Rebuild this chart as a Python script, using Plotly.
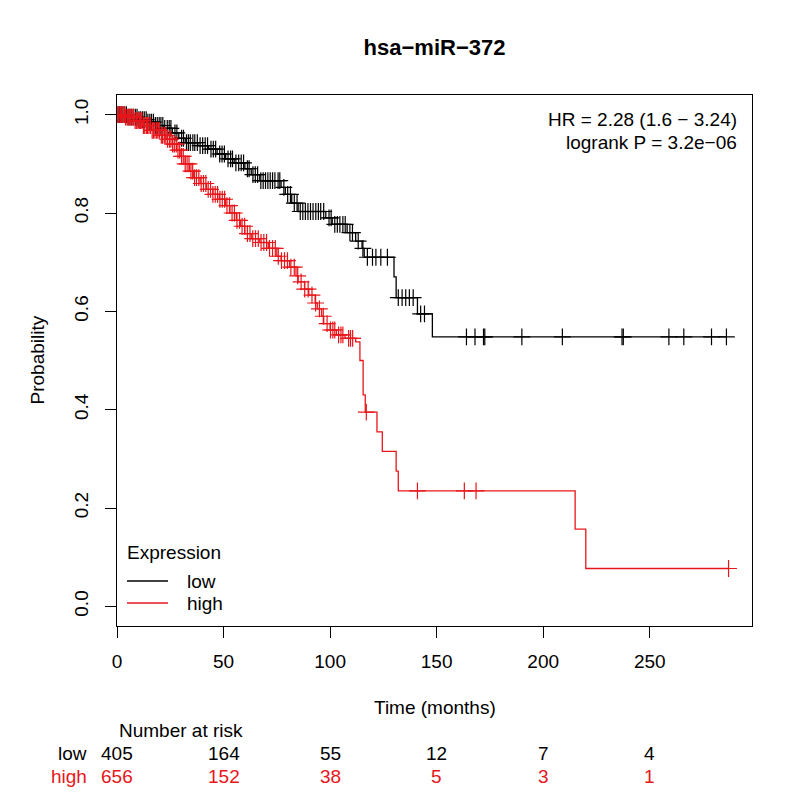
import numpy as np
import plotly.graph_objects as go

# Kaplan-Meier steps (time in months, survival)
low_time = [0, 5, 10, 14, 18, 22, 26, 29, 32, 38, 43, 47, 51, 55, 60, 63, 67, 77, 79,
            82, 85, 98, 101, 108, 112, 115, 116, 130, 131, 141, 148]
low_surv = [1.0, 0.995, 0.99, 0.985, 0.978, 0.972, 0.963, 0.952, 0.943, 0.937, 0.93,
            0.92, 0.91, 0.902, 0.89, 0.878, 0.866, 0.852, 0.838, 0.82, 0.803, 0.79,
            0.777, 0.76, 0.743, 0.728, 0.71, 0.67, 0.628, 0.595, 0.548]
low_censor = [0.5, 1.3, 2.1, 2.8, 3.6, 4.4, 5.2, 6.1, 6.9, 7.7, 8.6, 9.4, 10.3, 11.1,
              12.0, 12.8, 13.7, 14.5, 15.4, 16.2, 17.1, 18.0, 18.9, 19.8, 20.6, 21.5,
              22.4, 23.6, 24.5, 25.3, 27.2, 28.1, 30.3, 31.2, 32.6, 33.5, 34.4, 35.6,
              36.5, 37.7, 39.0, 40.2, 41.4, 42.5, 44.1, 45.2, 46.3, 48.2, 49.3, 50.4,
              52.1, 53.3, 54.2, 55.8, 57.1, 58.3, 59.4, 61.2, 62.0, 63.8, 64.9, 66.0,
              67.5, 68.6, 69.7, 70.8, 71.9, 73.0, 74.1, 75.6, 76.4, 78.3, 80.1, 81.4,
              83.2, 84.5, 86.0, 87.2, 88.4, 89.6, 90.8, 92.0, 93.3, 94.5, 95.6, 97.0,
              99.5, 100.5, 102.2, 103.4, 104.6, 106.0, 107.1, 109.3, 110.5, 113.2,
              115.4, 117.5, 119.9, 121.5, 123.8, 126.9, 132.0, 133.8, 135.5, 137.2,
              139.0, 142.5, 144.3, 164.0, 168.0, 172.0, 172.6, 190.0, 209.0, 237.0,
              237.6, 259.0, 266.0, 279.0, 286.0]

high_time = [0, 4, 8, 12, 16, 20, 23, 26, 28, 30, 32, 34, 36, 39, 42, 45, 48, 51, 53,
             56, 58, 60, 63, 67, 71, 75, 77, 81, 84, 85, 88, 90, 93, 94, 96, 97, 100,
             103, 107, 112, 114, 115.5, 116.5, 122, 124.5, 131, 132, 215, 220]
high_surv = [1.0, 0.995, 0.988, 0.978, 0.968, 0.958, 0.95, 0.94, 0.928, 0.915, 0.9,
             0.885, 0.872, 0.86, 0.848, 0.838, 0.828, 0.815, 0.8, 0.785, 0.773, 0.758,
             0.748, 0.74, 0.728, 0.712, 0.703, 0.69, 0.672, 0.66, 0.645, 0.633, 0.617,
             0.605, 0.59, 0.575, 0.562, 0.552, 0.545, 0.538, 0.5, 0.43, 0.395, 0.355,
             0.315, 0.275, 0.235, 0.157, 0.077]
high_censor = [0.3, 0.9, 1.6, 2.2, 2.8, 3.5, 4.0, 4.7, 5.3, 6.0, 6.6, 7.1, 7.8, 8.5,
               9.1, 9.8, 10.5, 11.1, 11.7, 12.4, 13.0, 13.8, 14.3, 15.0, 15.7, 16.5,
               17.1, 17.8, 18.6, 19.2, 19.9, 20.8, 21.4, 22.2, 22.9, 23.7, 24.6, 25.3,
               26.1, 26.9, 27.8, 28.6, 29.4, 30.3, 31.1, 32.0, 32.9, 33.8, 34.7, 35.5,
               36.4, 37.3, 38.4, 39.5, 40.6, 41.7, 42.8, 43.9, 45.0, 46.1, 47.2, 48.3,
               49.4, 50.5, 51.6, 52.8, 54.0, 55.1, 56.3, 57.5, 58.7, 59.9, 61.2, 62.4,
               63.7, 65.0, 66.3, 67.6, 68.9, 70.2, 71.6, 73.0, 74.3, 75.7, 77.2, 78.6,
               80.0, 81.6, 83.2, 84.8, 86.4, 88.1, 89.7, 91.5, 93.2, 95.0, 96.8, 98.6,
               100.2, 101.3, 102.2, 104.0, 105.1, 106.0, 108.7, 109.6, 110.6, 117.0,
               141.0, 163.0, 168.5, 287.0]

risk_times = [0, 50, 100, 150, 200, 250]
low_risk = [405, 164, 55, 12, 7, 4]
high_risk = [656, 152, 38, 5, 3, 1]

x_ticks = [0, 50, 100, 150, 200, 250]
y_ticks = [0.0, 0.2, 0.4, 0.6, 0.8, 1.0]

BLACK = "black"
RED = "#e8161b"
FONT = "Liberation Sans, Arial, sans-serif"

# the page puts the figure 8px in from the top-left corner
W = H = 792
L, T, PW, PH = 109, 87, 635, 531   # plot area in figure pixels


def surv_at(times, surv, t):
    idx = np.searchsorted(np.array(times), np.array(t), side="right") - 1
    return np.array(surv)[idx]


def px(x):
    # screen x (reference picture) -> paper x
    return (x - 8 - L) / PW


def py(y):
    # screen y (reference picture) -> paper y
    return (T + PH - (y - 8)) / PH


fig = go.Figure()

for times, surv, cens, col in [(low_time, low_surv, low_censor, BLACK),
                               (high_time, high_surv, high_censor, RED)]:
    fig.add_trace(go.Scatter(
        x=times + [cens[-1]], y=surv + [surv[-1]],
        mode="lines", line=dict(color=col, width=1.3, shape="hv"),
        showlegend=False, hoverinfo="skip",
    ))
    fig.add_trace(go.Scatter(
        x=cens, y=surv_at(times, surv, cens),
        mode="markers",
        marker=dict(symbol="cross-thin", size=12, color=col,
                    line=dict(color=col, width=1.2)),
        showlegend=False, hoverinfo="skip",
    ))

fig.update_layout(
    width=W, height=H,
    margin=dict(l=L, r=W - L - PW, t=T, b=H - T - PH),
    plot_bgcolor="white", paper_bgcolor="white",
    font=dict(family=FONT, size=19, color="black"),
    showlegend=False,
    title=dict(text="<b>hsa−miR−372</b>", x=(434.5 - 8) / W, y=1 - (47 - 8) / H,
               xanchor="center", yanchor="middle",
               font=dict(size=22, family=FONT)),
)

fig.update_xaxes(
    range=[0, 298], tickvals=x_ticks, ticks="outside", ticklen=11,
    tickcolor="black", showline=True, linecolor="black", linewidth=1,
    mirror=True, showgrid=False, zeroline=False, ticklabelstandoff=7,
)
fig.update_yaxes(
    range=[-0.04, 1.04], tickvals=y_ticks, ticktext=[f"{v:.1f}" for v in y_ticks],
    tickangle=-90, ticks="outside", ticklen=11, tickcolor="black",
    showline=True, linecolor="black", linewidth=1, mirror=True,
    showgrid=False, zeroline=False, ticklabelstandoff=9,
)

# axis titles
fig.add_annotation(text="Time (months)", xref="paper", yref="paper",
                   x=0.5, y=py(707), showarrow=False,
                   xanchor="center", yanchor="middle")
fig.add_annotation(text="Probability", xref="paper", yref="paper",
                   x=px(37), y=0.5, textangle=-90, showarrow=False,
                   xanchor="center", yanchor="middle")

# HR / logrank
fig.add_annotation(text="HR = 2.28 (1.6 − 3.24)", xref="paper", yref="paper",
                   x=px(739), y=py(119), showarrow=False,
                   xanchor="right", yanchor="middle")
fig.add_annotation(text="logrank P = 3.2e−06", xref="paper", yref="paper",
                   x=px(739), y=py(142), showarrow=False,
                   xanchor="right", yanchor="middle")

# legend drawn by hand, like R's legend()
fig.add_annotation(text="Expression", xref="paper", yref="paper",
                   x=px(125), y=py(552), showarrow=False,
                   xanchor="left", yanchor="middle")
for label, col, yy in [("low", BLACK, 581), ("high", RED, 603)]:
    fig.add_shape(type="line", xref="paper", yref="paper",
                  x0=px(127), x1=px(168), y0=py(yy), y1=py(yy),
                  line=dict(color=col, width=1.3))
    fig.add_annotation(text=label, xref="paper", yref="paper",
                       x=px(185), y=py(yy), showarrow=False,
                       xanchor="left", yanchor="middle")

# number at risk table
fig.add_annotation(text="Number at risk", xref="paper", yref="paper",
                   x=0, y=py(730), showarrow=False,
                   xanchor="left", yanchor="middle")
for label, counts, col, yy in [("low", low_risk, BLACK, 753),
                               ("high", high_risk, RED, 776)]:
    fig.add_annotation(text=label, xref="paper", yref="paper",
                       x=px(89), y=py(yy), showarrow=False,
                       xanchor="right", yanchor="middle", font=dict(color=col))
    for t, n in zip(risk_times, counts):
        fig.add_annotation(text=str(n), xref="x", yref="paper", x=t, y=py(yy),
                           showarrow=False, xanchor="center", yanchor="middle",
                           font=dict(color=col))

fig.write_html("out.html")
